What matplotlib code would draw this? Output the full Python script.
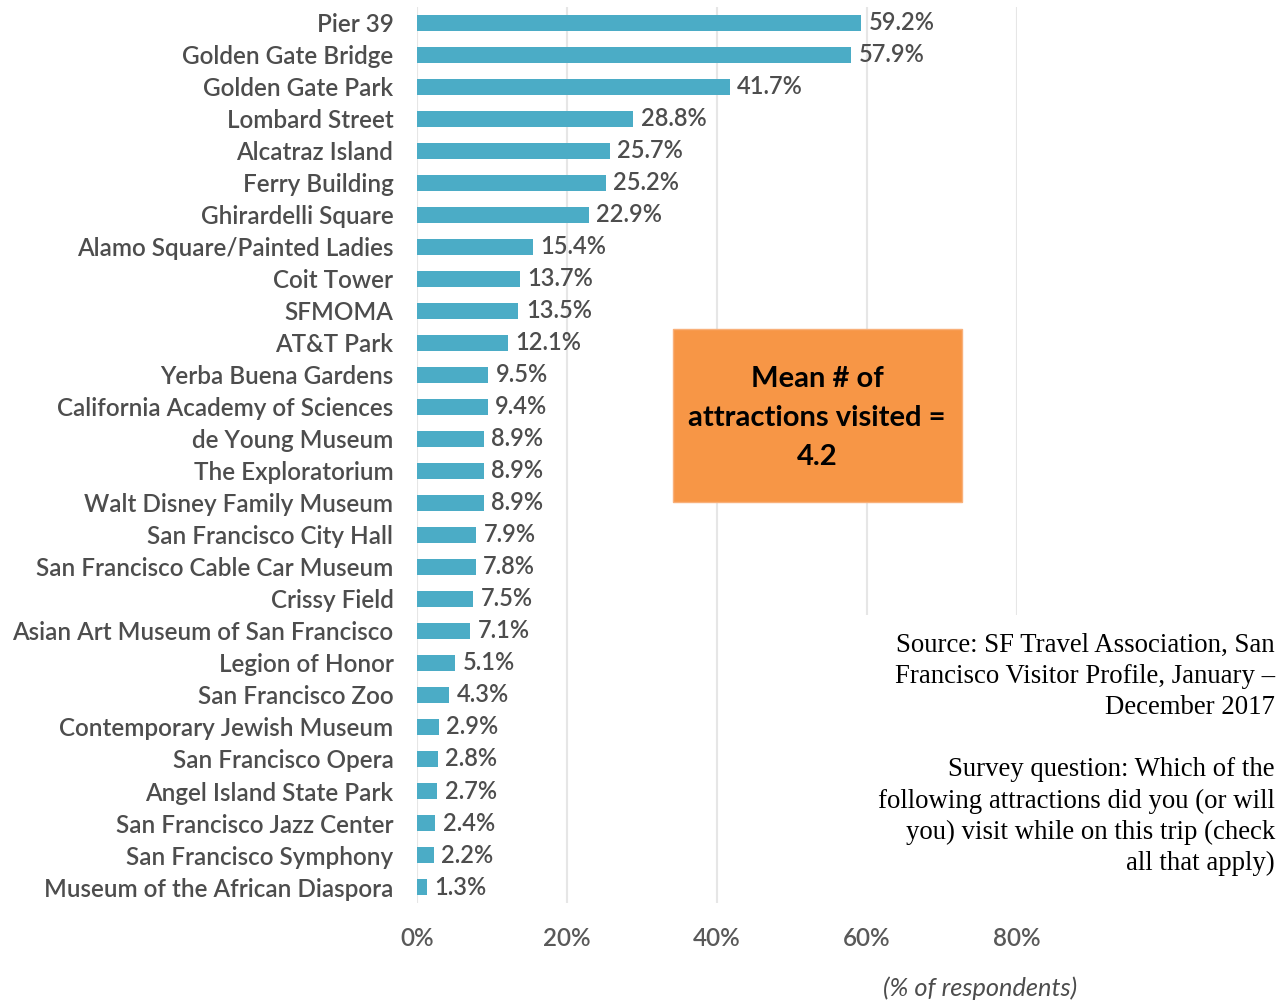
import matplotlib
matplotlib.use("Agg")
import matplotlib.pyplot as plt
from matplotlib.patches import Rectangle

# survey results, % of respondents
attractions = [
    "Pier 39", "Golden Gate Bridge", "Golden Gate Park", "Lombard Street",
    "Alcatraz Island", "Ferry Building", "Ghirardelli Square",
    "Alamo Square/Painted Ladies", "Coit Tower", "SFMOMA", "AT&T Park",
    "Yerba Buena Gardens", "California Academy of Sciences",
    "de Young Museum", "The Exploratorium", "Walt Disney Family Museum",
    "San Francisco City Hall", "San Francisco Cable Car Museum",
    "Crissy Field", "Asian Art Museum of San Francisco", "Legion of Honor",
    "San Francisco Zoo", "Contemporary Jewish Museum", "San Francisco Opera",
    "Angel Island State Park", "San Francisco Jazz Center",
    "San Francisco Symphony", "Museum of the African Diaspora",
]
pct = [59.2, 57.9, 41.7, 28.8, 25.7, 25.2, 22.9, 15.4, 13.7, 13.5, 12.1,
       9.5, 9.4, 8.9, 8.9, 8.9, 7.9, 7.8, 7.5, 7.1, 5.1, 4.3, 2.9, 2.8,
       2.7, 2.4, 2.2, 1.3]
xticks = [0, 20, 40, 60, 80]

mean_text = "Mean # of\nattractions visited =\n4.2"
source_text = ("Source: SF Travel Association, San\n"
               "Francisco Visitor Profile, January \u2013\n"
               "December 2017\n\n"
               "Survey question: Which of the\n"
               "following attractions did you (or will\n"
               "you) visit while on this trip (check\n"
               "all that apply)")

W, H = 1284, 1005
fig = plt.figure(figsize=(W / 100, H / 100), dpi=100)
# axes from x=417..1017, y=7..903 px
ax = fig.add_axes([417 / W, 1 - 903 / H, 600 / W, 896 / H])

sans = "Lato"
bar_col = "#4BACC6"
txt_col = "#4D4D4D"

y = list(range(len(attractions)))
ax.barh(y, pct, height=0.5, color=bar_col, zorder=2)
for yi, v in zip(y, pct):
    ax.text(v + 1.0, yi, f"{v}%", va="center", ha="left", fontsize=17,
            color=txt_col, family=sans, fontweight="semibold", zorder=3)

ax.set_xlim(0, 80)
ax.set_ylim(len(attractions) - 0.5, -0.5)
ax.set_yticks(y)
ax.set_yticklabels(attractions, fontsize=17.5, color=txt_col, family=sans,
                   fontweight="semibold")
ax.set_xticks(xticks)
ax.set_xticklabels([f"{t}%" for t in xticks], fontsize=17.5, color="#595959",
                   family=sans, fontweight="semibold")
ax.tick_params(axis="y", length=0, pad=17)
ax.tick_params(axis="x", length=0, pad=17.5)
ax.grid(axis="x", color="#E6E6E6", linewidth=1.5, zorder=0)
ax.set_axisbelow(True)
for s in ax.spines.values():
    s.set_visible(False)

fig.text(980 / W, 1 - 988 / H, "(% of respondents)", ha="center", va="center",
         fontsize=18.3, style="italic", color=txt_col, family=sans)

# orange callout box
fig.patches.append(Rectangle((673 / W, 1 - 502 / H), 289 / W, 173 / H,
                             transform=fig.transFigure, facecolor="#F79646",
                             edgecolor="#F9B07A", linewidth=1, zorder=5))
fig.text(817 / W, 1 - 418 / H, mean_text, ha="center", va="center",
         fontsize=21, fontweight="bold", family=sans, color="black",
         linespacing=1.6, zorder=6)

# white block under source note hides the right gridlines
fig.patches.append(Rectangle((760 / W, 1 - 905 / H), 524 / W, 290 / H,
                             transform=fig.transFigure, facecolor="white",
                             edgecolor="none", zorder=4))
fig.text(1275 / W, 1 - 633 / H, source_text, ha="right", va="top",
         fontsize=19.3, family="Liberation Serif", color="black",
         linespacing=1.32, zorder=6)

fig.savefig("out.png", dpi=100)
